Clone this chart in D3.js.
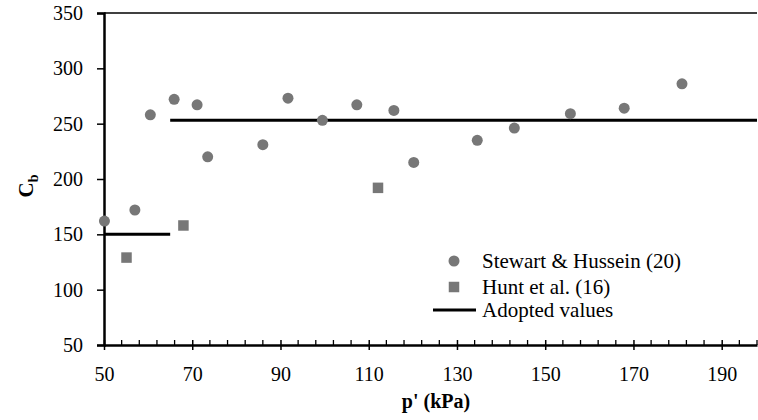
<!DOCTYPE html>
<html>
<head>
<meta charset="utf-8">
<script src="https://cdn.jsdelivr.net/npm/d3@7"></script>
<style>
  html, body { margin: 0; padding: 0; background: #fff; }
  svg { display: block; }
</style>
</head>
<body>
<svg id="chart" width="758" height="420"></svg>
<script>
// Stewart & Hussein (20): p' (kPa) and Cb
const stewartP  = [50.1, 57.0, 60.5, 65.9, 71.1, 73.5, 86.0, 91.7, 99.5, 107.3, 115.7, 120.2, 134.6, 143.0, 155.7, 167.9, 181.0];
const stewartCb = [162, 172, 258, 272, 267, 220, 231, 273, 253, 267, 262, 215, 235, 246, 259, 264, 286];

// Hunt et al. (16)
const huntP  = [55.1, 68.0, 112.1];
const huntCb = [129, 158, 192];

// Adopted values: [p start, p end, Cb]
const adoptedFrom = [50, 65];
const adoptedTo   = [65, 198];
const adoptedCb   = [150, 253];

const xTicks = [50, 70, 90, 110, 130, 150, 170, 190];
const yTicks = [50, 100, 150, 200, 250, 300, 350];
const legendLabels = ["Stewart & Hussein (20)", "Hunt et al. (16)", "Adopted values"];

const FONT = "'Liberation Serif', 'Times New Roman', Tinos, 'DejaVu Serif', 'Noto Serif', serif";

const svg = d3.select("#chart");
const x = d3.scaleLinear().domain([50, 198]).range([104, 757]);
const y = d3.scaleLinear().domain([50, 350]).range([345, 13]);
const markColor = "#777777";

// top frame line
svg.append("line")
  .attr("x1", x(50)).attr("x2", x(198))
  .attr("y1", y(350)).attr("y2", y(350))
  .attr("stroke", "#000").attr("stroke-width", 1.3);

// y axis
const yAxis = svg.append("g").attr("transform", `translate(${x(50)},0)`)
  .call(d3.axisLeft(y).tickValues(yTicks).tickSize(7).tickPadding(14).tickFormat(d3.format("d")));
yAxis.attr("font-family", null).attr("font-size", null);
yAxis.select(".domain").attr("stroke-width", 2.5);
yAxis.selectAll(".tick line").attr("stroke-width", 1.5);
yAxis.selectAll("text").style("font-size", "20px").style("font-family", FONT).attr("fill", "#000");

// x axis minor ticks (every 4 kPa, inside)
const minor = d3.range(50, 198.1, 4).filter(v => !xTicks.includes(v));
svg.append("g").selectAll("line").data(minor).join("line")
  .attr("x1", d => x(d)).attr("x2", d => x(d))
  .attr("y1", y(50) - 5).attr("y2", y(50))
  .attr("stroke", "#000").attr("stroke-width", 1.3);

// x axis major ticks cross the axis
const xAxis = svg.append("g").attr("transform", `translate(0,${y(50)})`)
  .call(d3.axisBottom(x).tickValues(xTicks).tickSizeInner(5).tickSizeOuter(0).tickPadding(17).tickFormat(d3.format("d")));
xAxis.attr("font-family", null).attr("font-size", null);
xAxis.select(".domain").attr("stroke-width", 2.5);
xAxis.selectAll(".tick line").attr("y1", -5).attr("y2", 5).attr("stroke-width", 1.5);
xAxis.selectAll("text").style("font-size", "20px").style("font-family", FONT).attr("fill", "#000");

// axis titles
svg.append("text")
  .attr("x", 436).attr("y", 408)
  .attr("text-anchor", "middle")
  .style("font-family", FONT)
  .style("font-size", "20px").style("font-weight", "bold")
  .text("p' (kPa)");

const yTitle = svg.append("text")
  .attr("transform", "translate(33,186) rotate(-90)")
  .attr("text-anchor", "middle")
  .style("font-family", FONT)
  .style("font-size", "21px").style("font-weight", "bold");
yTitle.append("tspan").text("C");
yTitle.append("tspan").attr("dy", 5).style("font-size", "14px").text("b");

// adopted values lines
svg.append("g").selectAll("line").data(adoptedCb).join("line")
  .attr("x1", (d, i) => x(adoptedFrom[i]))
  .attr("x2", (d, i) => x(adoptedTo[i]))
  .attr("y1", d => y(d)).attr("y2", d => y(d))
  .attr("stroke", "#000").attr("stroke-width", 3);

// Hunt et al. squares
const sq = 10.5;
svg.append("g").selectAll("rect").data(huntP).join("rect")
  .attr("x", d => x(d) - sq / 2)
  .attr("y", (d, i) => y(huntCb[i]) - sq / 2)
  .attr("width", sq).attr("height", sq)
  .attr("fill", markColor);

// Stewart & Hussein circles
svg.append("g").selectAll("circle").data(stewartP).join("circle")
  .attr("cx", d => x(d))
  .attr("cy", (d, i) => y(stewartCb[i]))
  .attr("r", 5.5)
  .attr("fill", markColor);

// legend
const lg = svg.append("g");
const rowY = [261, 287, 310];
lg.append("circle").attr("cx", 454).attr("cy", rowY[0]).attr("r", 5.5).attr("fill", markColor);
lg.append("rect").attr("x", 454 - sq / 2).attr("y", rowY[1] - sq / 2).attr("width", sq).attr("height", sq).attr("fill", markColor);
lg.append("line").attr("x1", 433).attr("x2", 476).attr("y1", rowY[2]).attr("y2", rowY[2])
  .attr("stroke", "#000").attr("stroke-width", 3);
lg.selectAll("text").data(legendLabels).join("text")
  .attr("x", 482)
  .attr("y", (d, i) => rowY[i])
  .attr("dy", "0.35em")
  .style("font-family", FONT)
  .style("font-size", "21px")
  .text(d => d);
</script>
</body>
</html>
